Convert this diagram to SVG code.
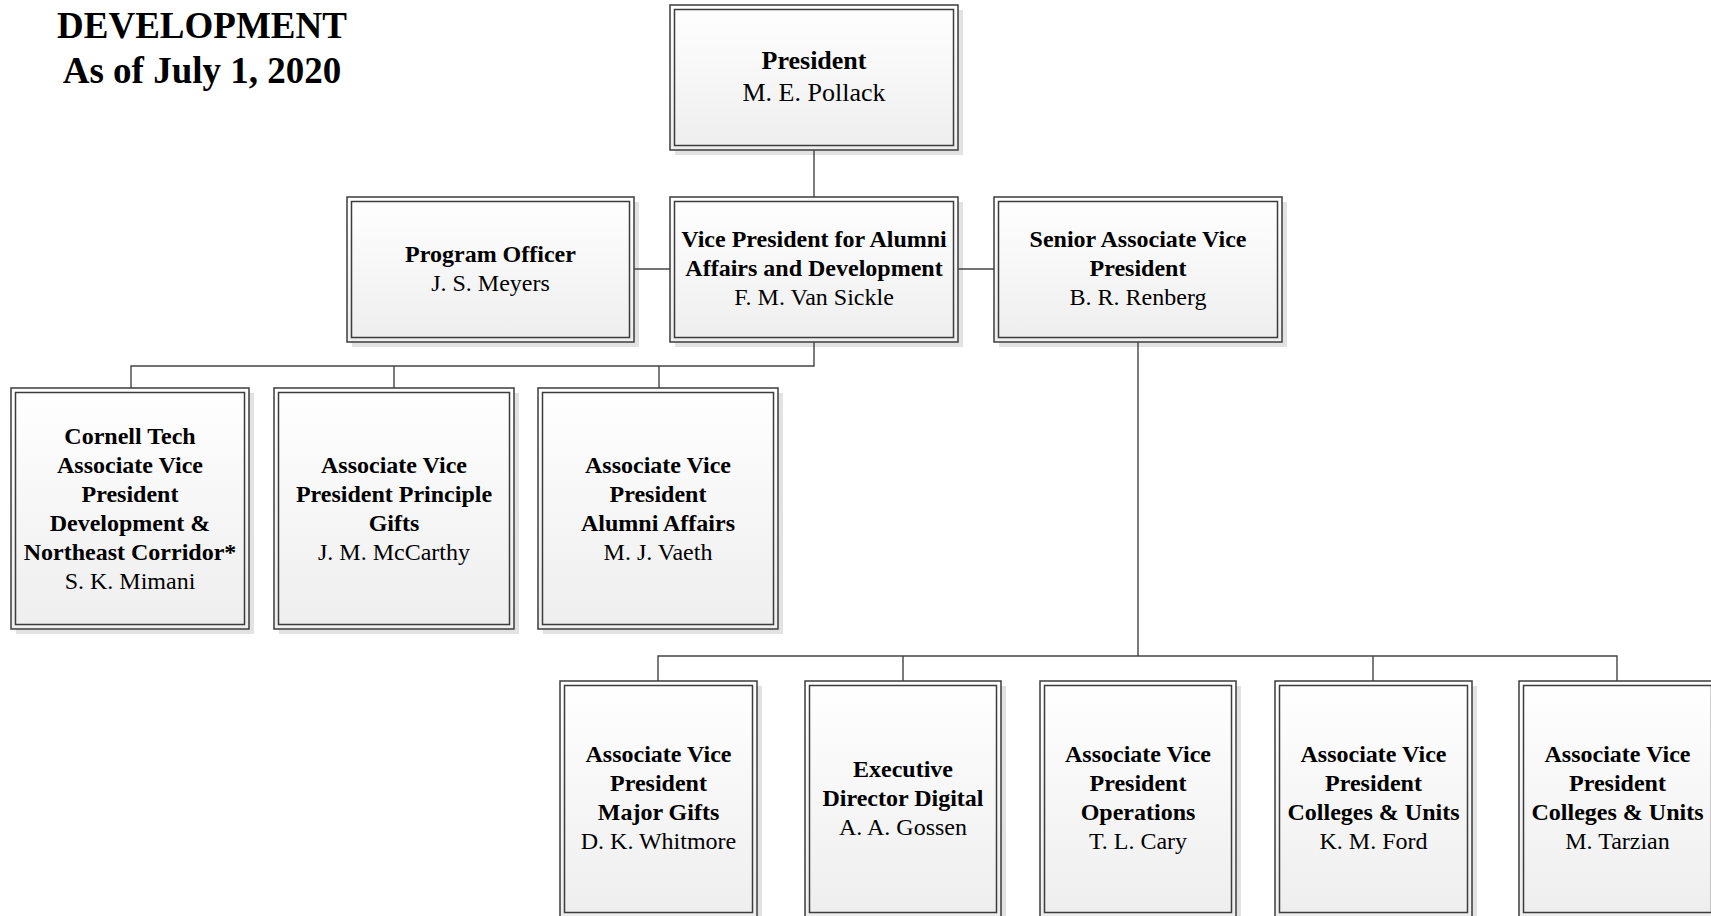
<svg xmlns="http://www.w3.org/2000/svg" width="1711" height="916" viewBox="0 0 1711 916">
<defs>
<linearGradient id="g" x1="0" y1="0" x2="0" y2="1">
<stop offset="0" stop-color="#ffffff"/>
<stop offset="1" stop-color="#eeeeee"/>
</linearGradient>
<style>
.sh{fill:#e2e2e2}
.o{fill:url(#g);stroke:#3c3c3c;stroke-width:1.5}
.i{fill:none;stroke:#3c3c3c;stroke-width:1.5}
.c{fill:none;stroke:#444;stroke-width:1.4}
text{font-family:"Liberation Serif","Times New Roman",serif;fill:#000;text-anchor:middle}
.b{font-weight:bold;font-size:24px}
.r{font-size:24px}
.pb{font-weight:bold;font-size:26px}
.pr{font-size:26px}
.t{font-weight:bold;font-size:37px}
</style>
</defs>
<rect width="1711" height="916" fill="#fff"/>
<g id="title">
<text class="t" x="202" y="38">DEVELOPMENT</text>
<text class="t" x="202" y="83">As of July 1, 2020</text>
</g>
<g id="president">
<rect class="sh" x="675" y="10" width="288" height="145"/>
<rect class="o" x="670" y="5" width="288" height="145"/>
<rect class="i" x="674.5" y="9.5" width="279" height="136"/>
<text class="pb" x="814" y="69">President</text>
<text class="pr" x="814" y="101">M. E. Pollack</text>
</g>
<g id="program-officer">
<rect class="sh" x="352" y="202" width="287" height="145"/>
<rect class="o" x="347" y="197" width="287" height="145"/>
<rect class="i" x="351.5" y="201.5" width="278" height="136"/>
<text class="b" x="490.5" y="261.5">Program Officer</text>
<text class="r" x="490.5" y="290.5">J. S. Meyers</text>
</g>
<g id="vp">
<rect class="sh" x="675" y="202" width="288" height="145"/>
<rect class="o" x="670" y="197" width="288" height="145"/>
<rect class="i" x="674.5" y="201.5" width="279" height="136"/>
<text class="b" x="814" y="246.5">Vice President for Alumni</text>
<text class="b" x="814" y="275.5">Affairs and Development</text>
<text class="r" x="814" y="304.5">F. M. Van Sickle</text>
</g>
<g id="senior-avp">
<rect class="sh" x="999" y="202" width="288" height="145"/>
<rect class="o" x="994" y="197" width="288" height="145"/>
<rect class="i" x="998.5" y="201.5" width="279" height="136"/>
<text class="b" x="1138" y="246.5">Senior Associate Vice</text>
<text class="b" x="1138" y="275.5">President</text>
<text class="r" x="1138" y="304.5">B. R. Renberg</text>
</g>
<g id="cornell-tech">
<rect class="sh" x="16" y="393" width="238" height="241"/>
<rect class="o" x="11" y="388" width="238" height="241"/>
<rect class="i" x="15.5" y="392.5" width="229" height="232"/>
<text class="b" x="130" y="443.5">Cornell Tech</text>
<text class="b" x="130" y="472.5">Associate Vice</text>
<text class="b" x="130" y="501.5">President</text>
<text class="b" x="130" y="530.5">Development &amp;</text>
<text class="b" x="130" y="559.5">Northeast Corridor*</text>
<text class="r" x="130" y="588.5">S. K. Mimani</text>
</g>
<g id="principle-gifts">
<rect class="sh" x="279" y="393" width="240" height="241"/>
<rect class="o" x="274" y="388" width="240" height="241"/>
<rect class="i" x="278.5" y="392.5" width="231" height="232"/>
<text class="b" x="394" y="472.5">Associate Vice</text>
<text class="b" x="394" y="501.5">President Principle</text>
<text class="b" x="394" y="530.5">Gifts</text>
<text class="r" x="394" y="559.5">J. M. McCarthy</text>
</g>
<g id="alumni-affairs">
<rect class="sh" x="543" y="393" width="240" height="241"/>
<rect class="o" x="538" y="388" width="240" height="241"/>
<rect class="i" x="542.5" y="392.5" width="231" height="232"/>
<text class="b" x="658" y="472.5">Associate Vice</text>
<text class="b" x="658" y="501.5">President</text>
<text class="b" x="658" y="530.5">Alumni Affairs</text>
<text class="r" x="658" y="559.5">M. J. Vaeth</text>
</g>
<g id="major-gifts">
<rect class="sh" x="565" y="686" width="197" height="236"/>
<rect class="o" x="560" y="681" width="197" height="236"/>
<rect class="i" x="564.5" y="685.5" width="188" height="227"/>
<text class="b" x="658.5" y="762">Associate Vice</text>
<text class="b" x="658.5" y="791">President</text>
<text class="b" x="658.5" y="820">Major Gifts</text>
<text class="r" x="658.5" y="849">D. K. Whitmore</text>
</g>
<g id="digital">
<rect class="sh" x="810" y="686" width="196" height="236"/>
<rect class="o" x="805" y="681" width="196" height="236"/>
<rect class="i" x="809.5" y="685.5" width="187" height="227"/>
<text class="b" x="903" y="776.5">Executive</text>
<text class="b" x="903" y="805.5">Director Digital</text>
<text class="r" x="903" y="834.5">A. A. Gossen</text>
</g>
<g id="operations">
<rect class="sh" x="1045" y="686" width="196" height="236"/>
<rect class="o" x="1040" y="681" width="196" height="236"/>
<rect class="i" x="1044.5" y="685.5" width="187" height="227"/>
<text class="b" x="1138" y="762">Associate Vice</text>
<text class="b" x="1138" y="791">President</text>
<text class="b" x="1138" y="820">Operations</text>
<text class="r" x="1138" y="849">T. L. Cary</text>
</g>
<g id="colleges-ford">
<rect class="sh" x="1280" y="686" width="197" height="236"/>
<rect class="o" x="1275" y="681" width="197" height="236"/>
<rect class="i" x="1279.5" y="685.5" width="188" height="227"/>
<text class="b" x="1373.5" y="762">Associate Vice</text>
<text class="b" x="1373.5" y="791">President</text>
<text class="b" x="1373.5" y="820">Colleges &amp; Units</text>
<text class="r" x="1373.5" y="849">K. M. Ford</text>
</g>
<g id="colleges-tarzian">
<rect class="sh" x="1524" y="686" width="197" height="236"/>
<rect class="o" x="1519" y="681" width="197" height="236"/>
<rect class="i" x="1523.5" y="685.5" width="188" height="227"/>
<text class="b" x="1617.5" y="762">Associate Vice</text>
<text class="b" x="1617.5" y="791">President</text>
<text class="b" x="1617.5" y="820">Colleges &amp; Units</text>
<text class="r" x="1617.5" y="849">M. Tarzian</text>
</g>
<g id="connectors">
<path class="c" d="M814 150V197"/>
<path class="c" d="M634 269H670"/>
<path class="c" d="M958 269H994"/>
<path class="c" d="M814 342V366H131V388M394 366V388M659 366V388"/>
<path class="c" d="M1138 342V656M658 681V656H1617V681M903 656V681M1373 656V681"/>
</g>
</svg>
